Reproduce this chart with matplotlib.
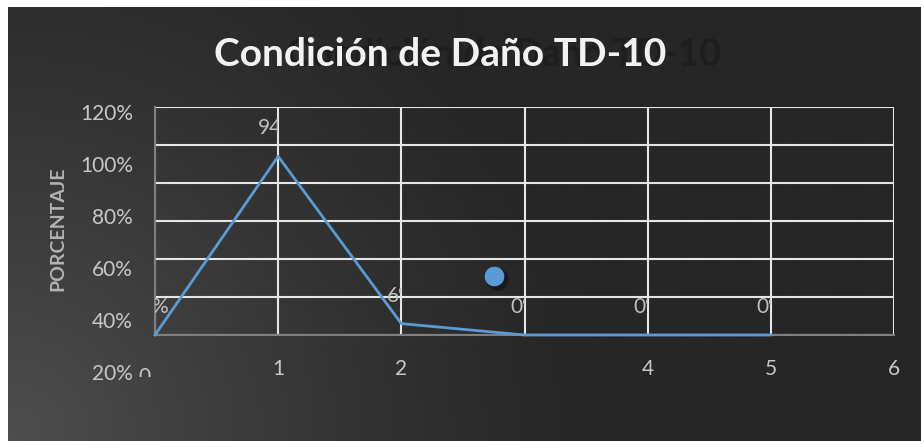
import numpy as np
import matplotlib
matplotlib.use('Agg')
import matplotlib.pyplot as plt
from matplotlib.transforms import Bbox, TransformedBbox, offset_copy

plt.rcParams['font.family'] = ['Lato', 'DejaVu Sans']

# datos
x_vals = [0, 1, 2, 3, 4, 5]
y_vals = [0, 94, 6, 0, 0, 0]
etiquetas = ['0%', '94%', '6%', '0%', '0%', '0%']
x_ticks = [1, 2, 4, 5, 6]
x_tick_labels = ['1', '2', '4', '5', '6']
y_ticks = [20, 40, 60, 80, 100, 120]
y_tick_labels = ['20%', '40%', '60%', '80%', '100%', '120%']
punto_x = [2.75]
punto_y = [31]

W, H = 921, 441
fig = plt.figure(figsize=(W / 100, H / 100), dpi=100)
fig.patch.set_facecolor('white')

# fondo oscuro con degradado
bg = fig.add_axes([8 / W, 0, 1 - 8 / W, 1 - 7 / H])
bg.set_axis_off()
yy, xx = np.mgrid[0:434, 0:913]
d = np.sqrt(xx ** 2 + (434 - yy) ** 2)
c = 38 + 40 * np.clip(1 - d / 580, 0, 1) ** 1.2
img = np.dstack([c, c, c]) / 255
bg.imshow(img, aspect='auto', extent=[0, 1, 0, 1])
bg.set_xlim(0, 1)
bg.set_ylim(0, 1)

# eje principal
ax = fig.add_axes([155 / W, 1 - 335 / H, 739 / W, 228 / H])
ax.set_facecolor('none')
ax.set_xlim(0, 6)
ax.set_ylim(0, 120)
ax.set_yticks(range(0, 121, 20))
ax.set_xticks(range(0, 7))
ax.grid(True, color='#e6e6e6', linewidth=1.5)
ax.tick_params(length=0, labelleft=False, labelbottom=False)
for s in ['top', 'right']:
    ax.spines[s].set_visible(False)
for s in ['left', 'bottom']:
    ax.spines[s].set_color('#7f7f7f')
    ax.spines[s].set_linewidth(1.5)

ax.plot(x_vals, y_vals, color='#5b9bd5', linewidth=2, zorder=3, clip_on=False)

# etiquetas de datos (recortadas como en el original)
for i, (xv, yv, lab) in enumerate(zip(x_vals, y_vals, etiquetas)):
    tr = offset_copy(ax.transData, fig=fig, x=0, y=28, units='dots')
    t = ax.text(xv, yv, lab, transform=tr, ha='center', va='center',
                color='#bfbfbf', fontsize=15)
    if i == 0:
        lo, hi = x_vals[0], x_vals[1]
    else:
        lo, hi = x_vals[i - 1], xv
    t.set_clip_box(TransformedBbox(Bbox([[lo, 0], [hi, 120]]), ax.transData))
    t.set_clip_on(True)

# punto suelto con sombra
sh = offset_copy(ax.transData, fig=fig, x=3, y=-3, units='dots')
ax.scatter(punto_x, punto_y, s=260, color='black', alpha=0.35, transform=sh,
           linewidths=0, zorder=4)
ax.scatter(punto_x, punto_y, s=200, color='#5b9bd5', linewidths=0, zorder=5)

# etiquetas del eje x
xl = fig.add_axes([155 / W, 1 - 335 / H, 739 / W, 228 / H])
xl.set_facecolor('none')
xl.set_xlim(0, 6)
xl.set_xticks(x_ticks)
xl.set_xticklabels(x_tick_labels)
xl.set_yticks([])
xl.tick_params(axis='x', length=0, pad=17, labelsize=15, labelcolor='#c8c8c8')
for s in xl.spines.values():
    s.set_visible(False)

# el "0" cortado por abajo
t0 = fig.text(144 / W, 1 - 377 / H, '0', ha='center', va='center',
              color='#c8c8c8', fontsize=15)
t0.set_clip_box(Bbox([[0, H - 377], [W, H]]))
t0.set_clip_on(True)

# etiquetas del eje y (desalineadas como en el original)
yl = fig.add_axes([155 / W, 1 - 372 / H, 0.001, 260 / H])
yl.set_facecolor('none')
yl.set_ylim(20, 120)
yl.set_yticks(y_ticks)
yl.set_yticklabels(y_tick_labels)
yl.set_xticks([])
yl.tick_params(axis='y', length=0, pad=16, labelsize=15, labelcolor='#c8c8c8')
for s in yl.spines.values():
    s.set_visible(False)

fig.text(58 / W, 1 - 229 / H, 'PORCENTAJE', rotation=90, ha='center', va='center',
         color='#b3b3b3', fontsize=14, fontweight='bold')

# titulo con sombra fantasma
fig.text(503 / W, 1 - 55 / H, 'Condición de Daño TD-10', ha='center', va='center',
         color='#1e1e1e', fontsize=27, fontweight='bold')
fig.text(440 / W, 1 - 55 / H, 'Condición de Daño TD-10', ha='center', va='center',
         color='#f2f2f2', fontsize=28, fontweight='bold')

fig.savefig('out.png', dpi=100)
